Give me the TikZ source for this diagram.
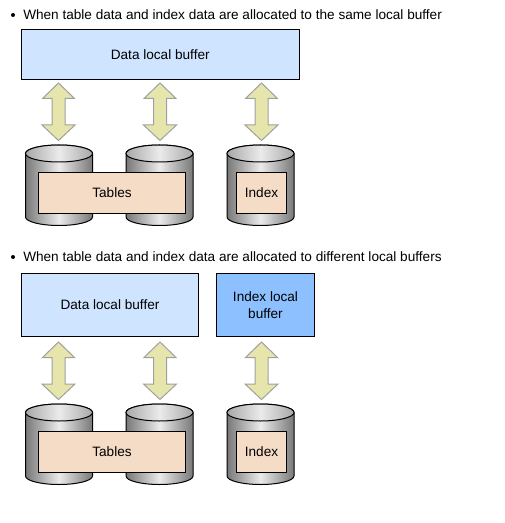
\documentclass[tikz,border=0pt]{standalone}
\usepackage{fontspec}
\setmainfont{Liberation Sans}
\tikzset{
  x=0.75pt,y=-0.75pt,
  txt/.style={font=\fontsize{10.2}{12.75}\selectfont,text=black,inner sep=0pt,align=center},
  head/.style={txt,anchor=west},
  blt/.style={inner sep=0pt,circle,fill=black,minimum size=3pt},
  buf/.style={draw=black,line width=0.75pt,txt,anchor=north west},
  lbl/.style={draw=black,line width=0.75pt,fill=labelfill,txt,anchor=north west},
  dbl/.style={draw=arrowline,fill=arrowfill,line width=0.75pt,line join=miter},
}
\definecolor{lightbuf}{HTML}{CEE4FF}
\definecolor{darkbuf}{HTML}{8CC0FF}
\definecolor{labelfill}{HTML}{F5DCC6}
\definecolor{arrowfill}{HTML}{E6E6AC}
\definecolor{arrowline}{HTML}{A0A0A0}
\definecolor{cyldark}{HTML}{787878}
\definecolor{cylmid}{HTML}{A8A8A8}
\newcommand{\cylinder}[3]{% left x, top y, name
  \begin{scope}[shift={(#1,#2)}]
    \draw[black,line width=0.75pt,left color=cyldark,right color=cyldark,middle color=white!92!black]
      (0,8.5) -- (0,72) arc[start angle=180,end angle=0,x radius=33.5,y radius=8.5] -- (67,8.5)
      arc[start angle=0,end angle=-180,x radius=33.5,y radius=8.5] -- cycle;
    \draw[black,line width=0.75pt,shading=axis,shading angle=110,left color=cylmid,right color=cylmid,middle color=white!92!black]
      (33.5,8.5) ellipse[x radius=33.5,y radius=8.5];
    \coordinate (#3) at (33.5,0);
  \end{scope}}
\newcommand{\dblarrow}[3]{% centre x, top y, name
  \begin{scope}[shift={(#1,#2)}]
    \coordinate (#3) at (0,0);
    \draw[dbl] (0,0) -- (16,15.5) -- (6.5,15.5) -- (6.5,42) -- (16.5,42) -- (0,57.5)
      -- (-16.5,42) -- (-6.5,42) -- (-6.5,15.5) -- (-16,15.5) -- cycle;
  \end{scope}}
\begin{document}
\begin{tikzpicture}
\useasboundingbox (0,0) rectangle (504,523);
\path[fill=white] (0,0) rectangle (504,523);
% first part
\node[blt] (b1) at (13,15) {};
\node[head] (h1) at (23,15) {When table data and index data are allocated to the same local buffer};
\node[buf,fill=lightbuf,minimum width=277.5pt*0.75,minimum height=50pt*0.75] (d1) at (21,29) {Data local buffer};
\dblarrow{58.5}{83}{a1}
\dblarrow{160}{83}{a2}
\dblarrow{261.5}{83}{a3}
\cylinder{25.5}{145}{c1}
\cylinder{126}{145}{c2}
\cylinder{227}{145}{c3}
\node[lbl,minimum width=147pt*0.75,minimum height=41pt*0.75] (t1) at (38,172) {Tables};
\node[lbl,minimum width=50pt*0.75,minimum height=41pt*0.75] (i1) at (236,172) {Index};
% second part
\node[blt] (b2) at (13,257) {};
\node[head] (h2) at (23,257) {When table data and index data are allocated to different local buffers};
\node[buf,fill=lightbuf,minimum width=177pt*0.75,minimum height=63pt*0.75] (d2) at (21,273) {Data local buffer};
\node[buf,fill=darkbuf,minimum width=98pt*0.75,minimum height=63pt*0.75] (x2) at (216,273) {Index local\\buffer};
\dblarrow{58.5}{342}{a4}
\dblarrow{160}{342}{a5}
\dblarrow{261.5}{342}{a6}
\cylinder{25.5}{404}{c4}
\cylinder{126}{404}{c5}
\cylinder{227}{404}{c6}
\node[lbl,minimum width=147pt*0.75,minimum height=41pt*0.75] (t2) at (38,431) {Tables};
\node[lbl,minimum width=50pt*0.75,minimum height=41pt*0.75] (i2) at (236,431) {Index};
\end{tikzpicture}
\end{document}
